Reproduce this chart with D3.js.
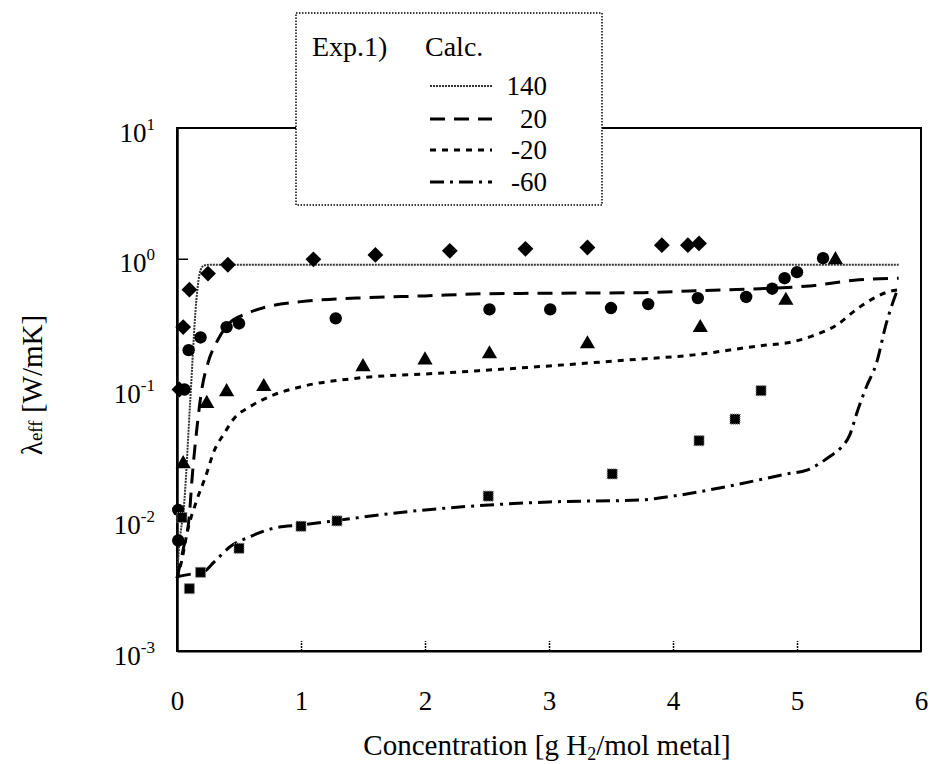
<!DOCTYPE html>
<html>
<head>
<meta charset="utf-8">
<script src="https://cdn.jsdelivr.net/npm/d3@7"></script>
<style>
  html, body { margin: 0; padding: 0; background: #fff; }
  svg { display: block; font-family: "Liberation Serif", "Times New Roman", serif; }
</style>
</head>
<body>
<svg id="chart" width="930" height="764"></svg>
<script>
// Measured effective thermal conductivity (symbols) per temperature, °C
const diamond140X = [0.02, 0.05, 0.10, 0.25, 0.41, 1.10, 1.60, 2.20, 2.81, 3.31, 3.91, 4.12, 4.21];
const diamond140Y = [0.10, 0.30, 0.58, 0.77, 0.90, 0.99, 1.07, 1.15, 1.19, 1.22, 1.27, 1.27, 1.31];

const circle20X = [0.06, 0.01, 0.01, 0.094, 0.19, 0.40, 0.50, 1.28, 2.52, 3.01, 3.50, 3.80, 4.20, 4.59, 4.80, 4.90, 5.00, 5.21];
const circle20Y = [0.10, 0.012, 0.007, 0.20, 0.25, 0.30, 0.32, 0.35, 0.41, 0.41, 0.42, 0.45, 0.50, 0.51, 0.59, 0.71, 0.79, 1.01];

const triangleM20X = [0.05, 0.24, 0.40, 0.70, 1.50, 2.00, 2.52, 3.31, 4.22, 4.91, 5.31];
const triangleM20Y = [0.027, 0.078, 0.096, 0.105, 0.149, 0.168, 0.187, 0.223, 0.297, 0.48, 0.98];

const squareM60X = [0.04, 0.10, 0.19, 0.50, 1.00, 1.29, 2.51, 3.51, 4.21, 4.50, 4.71];
const squareM60Y = [0.0105, 0.0030, 0.0040, 0.0061, 0.0090, 0.0099, 0.0153, 0.0226, 0.0406, 0.0594, 0.098];

// Calculated curves
const calc140X = [0, 0.013, 0.06, 0.107, 0.156, 0.19, 0.22, 0.26, 5.82];
const calc140Y = [0.0036, 0.0056, 0.0143, 0.083, 0.48, 0.82, 0.89, 0.9, 0.9];

const calc20X = [0, 0.05, 0.10, 0.12, 0.16, 0.20, 0.25, 0.33, 0.42, 0.56, 0.73, 1.0, 1.45, 2.0, 2.5, 3.0, 3.76, 4.2, 4.7, 5.1, 5.5, 5.82];
const calc20Y = [0.0036, 0.006, 0.011, 0.02, 0.05, 0.10, 0.16, 0.24, 0.32, 0.38, 0.43, 0.47, 0.50, 0.52, 0.54, 0.545, 0.55, 0.57, 0.59, 0.62, 0.69, 0.71];

const calcM20X = [0, 0.04, 0.08, 0.16, 0.23, 0.30, 0.38, 0.46, 0.59, 0.78, 1.0, 1.45, 2.1, 2.9, 3.63, 4.17, 4.7, 4.97, 5.11, 5.32, 5.48, 5.62, 5.74, 5.82];
const calcM20Y = [0.0036, 0.005, 0.0079, 0.0143, 0.0215, 0.034, 0.046, 0.060, 0.074, 0.091, 0.105, 0.122, 0.133, 0.149, 0.168, 0.184, 0.216, 0.232, 0.254, 0.311, 0.41, 0.50, 0.56, 0.58];

const calcM60X = [0, 0.13, 0.21, 0.30, 0.43, 0.59, 0.78, 1.0, 2.0, 3.0, 3.74, 4.0, 4.46, 4.92, 5.08, 5.27, 5.35, 5.43, 5.48, 5.56, 5.64, 5.72, 5.81];
const calcM60Y = [0.0037, 0.0039, 0.004, 0.0048, 0.0063, 0.0075, 0.0087, 0.0092, 0.012, 0.0138, 0.0143, 0.0153, 0.0183, 0.0226, 0.0242, 0.031, 0.0355, 0.046, 0.065, 0.105, 0.158, 0.32, 0.58];

// Axis ticks and legend labels
const xTicks = [0, 1, 2, 3, 4, 5, 6];
const yExponents = [1, 0, -1, -2, -3];
const legendLabels = ["140", "20", "-20", "-60"];

const svg = d3.select("#chart");
const plotLeft = 177, plotRight = 921, plotTop = 128, plotBottom = 651;

const x = d3.scaleLinear().domain([0, 6]).range([plotLeft, plotRight]);
const y = d3.scaleLog().domain([1e-3, 10]).range([plotBottom, plotTop]);

// Plot frame
svg.append("rect")
  .attr("x", plotLeft).attr("y", plotTop)
  .attr("width", plotRight - plotLeft).attr("height", plotBottom - plotTop)
  .attr("fill", "none").attr("stroke", "#000").attr("stroke-width", 2);

// Bottom axis: inward ticks, labels below
const xAxis = svg.append("g")
  .attr("transform", `translate(0,${plotBottom})`)
  .call(d3.axisBottom(x).tickValues(xTicks).tickSize(-10).tickSizeOuter(0).tickPadding(0).tickFormat(d3.format("d")));
xAxis.attr("font-family", null);
xAxis.select(".domain").attr("stroke-width", 2);
xAxis.selectAll(".tick line").attr("stroke-width", 1.5).attr("stroke-dasharray", "2,1");
xAxis.selectAll(".tick text")
  .attr("y", 59).attr("dy", null)
  .attr("font-size", 27).attr("fill", "#000");
xAxis.selectAll(".tick").filter(d => d === 0 || d === 6).select("line").remove();

// Left axis: inward ticks, labels as powers of ten
const yAxis = svg.append("g")
  .attr("transform", `translate(${plotLeft},0)`)
  .call(d3.axisLeft(y).tickValues(yExponents.map(e => Math.pow(10, e))).tickSize(-11).tickSizeOuter(0).tickPadding(0).tickFormat(() => ""));
yAxis.attr("font-family", null);
yAxis.select(".domain").attr("stroke-width", 2.5);
yAxis.selectAll(".tick line").attr("stroke-width", 1.5);
yAxis.selectAll(".tick").filter(d => d >= 9 || d <= 0.0011).select("line").remove();
yAxis.selectAll(".tick text").each(function(d) {
  const t = d3.select(this)
    .attr("x", -22).attr("dy", null).attr("y", 13)
    .attr("text-anchor", "end").attr("fill", "#000")
    .attr("font-size", 27);
  t.text(null);
  t.append("tspan").text("10");
  t.append("tspan").attr("font-size", 17).attr("dy", -12).text(Math.round(Math.log10(d)));
});

// Axis titles
const xTitle = svg.append("text")
  .attr("x", (plotLeft + plotRight) / 2 - 2).attr("y", 755)
  .attr("text-anchor", "middle").attr("font-size", 29);
xTitle.append("tspan").text("Concentration [g H");
xTitle.append("tspan").attr("font-size", 18).attr("dy", 5).text("2");
xTitle.append("tspan").attr("dy", -5).text("/mol metal]");

const yTitle = svg.append("text")
  .attr("transform", "translate(42,385) rotate(-90)")
  .attr("text-anchor", "middle").attr("font-size", 29);
yTitle.append("tspan").text("λ");
yTitle.append("tspan").attr("font-size", 19).text("eff");
yTitle.append("tspan").text(" [W/mK]");

// Calculated curves
const line = d3.line().x(d => x(d[0])).y(d => y(d[1])).curve(d3.curveMonotoneX);
const zip = (xs, ys) => xs.map((v, i) => [v, ys[i]]);
const curves = [
  { pts: zip(calc140X, calc140Y), dash: "2,1", width: 2, color: "#333" },
  { pts: zip(calc20X, calc20Y), dash: "15,9", width: 3, color: "#000" },
  { pts: zip(calcM20X, calcM20Y), dash: "6,6", width: 3, color: "#000" },
  { pts: zip(calcM60X, calcM60Y), dash: "14,6,3,6", width: 3, color: "#000" }
];
svg.append("g").selectAll("path").data(curves).join("path")
  .attr("d", d => line(d.pts))
  .attr("fill", "none").attr("stroke", d => d.color)
  .attr("stroke-width", d => d.width)
  .attr("stroke-dasharray", d => d.dash);

// Measured symbols
const g = svg.append("g");
g.selectAll(".dia").data(zip(diamond140X, diamond140Y)).join("path")
  .attr("d", d3.symbol(d3.symbolDiamond2, 160)())
  .attr("transform", d => `translate(${x(d[0])},${y(d[1])})`)
  .attr("fill", "#000");
g.selectAll(".cir").data(zip(circle20X, circle20Y)).join("circle")
  .attr("cx", d => x(d[0])).attr("cy", d => y(d[1])).attr("r", 6.2)
  .attr("fill", "#000");
g.selectAll(".tri").data(zip(triangleM20X, triangleM20Y)).join("path")
  .attr("d", d3.symbol(d3.symbolTriangle, 100)())
  .attr("transform", d => `translate(${x(d[0])},${y(d[1])})`)
  .attr("fill", "#000");
g.selectAll(".sq").data(zip(squareM60X, squareM60Y)).join("rect")
  .attr("x", d => x(d[0]) - 5).attr("y", d => y(d[1]) - 5)
  .attr("width", 10).attr("height", 10)
  .attr("fill", "#000").attr("stroke", "#888").attr("stroke-width", 1.2)
  .attr("stroke-dasharray", "1,1");

// Legend box
const lg = svg.append("g");
lg.append("rect")
  .attr("x", 296).attr("y", 13).attr("width", 306).attr("height", 192)
  .attr("fill", "#fff").attr("stroke", "#000").attr("stroke-width", 1.5)
  .attr("stroke-dasharray", "1.5,1.5");
lg.append("text").attr("x", 312).attr("y", 56).attr("font-size", 28).text("Exp.1)");
lg.append("text").attr("x", 425).attr("y", 56).attr("font-size", 28).text("Calc.");
const rowY = [86, 119, 150, 182];
lg.selectAll(".ln").data(curves).join("line")
  .attr("x1", 430).attr("x2", 492)
  .attr("y1", (d, i) => rowY[i]).attr("y2", (d, i) => rowY[i])
  .attr("stroke", d => d.color).attr("stroke-width", d => d.width)
  .attr("stroke-dasharray", d => d.dash);
lg.selectAll(".lbl").data(legendLabels).join("text")
  .attr("x", 547).attr("y", (d, i) => rowY[i] + 9)
  .attr("text-anchor", "end").attr("font-size", 27)
  .text(d => d);
</script>
</body>
</html>
